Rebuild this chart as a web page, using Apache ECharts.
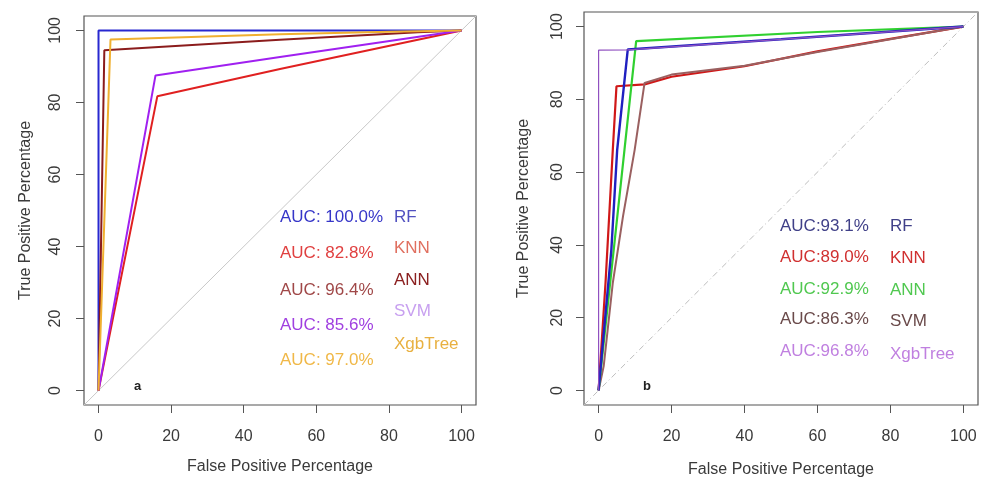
<!DOCTYPE html>
<html>
<head>
<meta charset="utf-8">
<script src="https://cdn.jsdelivr.net/npm/echarts@6/dist/echarts.min.js"></script>
<style>
  html, body { margin: 0; padding: 0; background: #fff; }
  #chart { width: 984px; height: 477px; }
</style>
</head>
<body>
<div id="chart"></div>
<script>
// tick labels shared by both panels
var ticks = [0, 20, 40, 60, 80, 100];
var diagonal = [[-4, -4], [104, 104]];

// panel a: ROC points (FPR %, TPR %)
var aRF = [[0, 0], [0, 100], [100, 100]];
var aKNN = [[0, 0], [16.2, 81.7], [50, 89.3], [100, 100]];
var aANN = [[0, 0], [1.6, 94.5], [50, 97.4], [88, 99.5], [100, 100]];
var aSVM = [[0, 0], [15.7, 87.5], [50, 92.6], [100, 100]];
var aXgb = [[0, 0], [3.3, 97.5], [50, 98.9], [80, 99.6], [100, 100]];

// panel b
var bRF = [[0, 0], [3.5, 38.7], [5.1, 66.2], [8, 93.7], [50, 96.5], [100, 100]];
var bKNN = [[0, 0], [1.9, 29.6], [3.9, 66.2], [4.9, 83.6], [12.6, 84.1], [20, 86.2], [40, 89.1], [60, 93.2], [80, 96.6], [100, 100]];
var bANN = [[0, 0], [7.1, 66.2], [10.3, 96], [60, 98.5], [100, 100]];
var bSVM = [[0, 0], [1.4, 6.7], [3.9, 29.6], [6.7, 47.9], [9.9, 66.2], [12.6, 84.5], [20, 86.8], [40, 89.2], [60, 93], [80, 96.5], [100, 100]];
var bXgb = [[0, 0], [0, 93.5], [8, 93.6], [50, 96.5], [100, 100]];

var models = ['RF', 'KNN', 'ANN', 'SVM', 'XgbTree'];
var aucA = ['AUC: 100.0%', 'AUC: 82.8%', 'AUC: 96.4%', 'AUC: 85.6%', 'AUC: 97.0%'];
var aucB = ['AUC:93.1%', 'AUC:89.0%', 'AUC:92.9%', 'AUC:86.3%', 'AUC:96.8%'];

var font = "'Liberation Sans', Arial, sans-serif";
var axisColor = '#555';
var textColor = '#3a3a3a';

function xAx(idx, gap) {
  return {
    gridIndex: idx, type: 'value', min: -4, max: 104, position: 'bottom',
    name: 'False Positive Percentage', nameLocation: 'middle', nameGap: gap,
    nameTextStyle: { fontSize: 16, color: textColor, fontFamily: font },
    axisLine: { show: false, onZero: false },
    axisTick: { show: true, inside: false, length: 8, customValues: ticks, lineStyle: { color: axisColor } },
    axisLabel: { customValues: ticks, margin: 24, fontSize: 16, color: textColor, fontFamily: font },
    splitLine: { show: false }
  };
}
function yAx(idx, gap, margin) {
  return {
    gridIndex: idx, type: 'value', min: -4, max: 104, position: 'left',
    name: 'True Positive Percentage', nameLocation: 'middle', nameGap: gap,
    nameTextStyle: { fontSize: 16, color: textColor, fontFamily: font },
    axisLine: { show: false, onZero: false },
    axisTick: { show: true, inside: false, length: 8, customValues: ticks, lineStyle: { color: axisColor } },
    axisLabel: { customValues: ticks, margin: margin, rotate: 90, fontSize: 16, color: textColor, fontFamily: font },
    splitLine: { show: false }
  };
}
function line(idx, name, data, color, width) {
  return {
    name: name, type: 'line', xAxisIndex: idx, yAxisIndex: idx, data: data,
    showSymbol: false, symbol: 'none', silent: true,
    lineStyle: { color: color, width: width }
  };
}
function texts(list, x, ys, colors) {
  return list.map(function (t, i) {
    return { type: 'text', left: x, top: ys[i] - 10,
      style: { text: t, fill: colors[i], fontSize: 17, fontFamily: font } };
  });
}

var chart = echarts.init(document.getElementById('chart'));
chart.setOption({
  animation: false,
  backgroundColor: '#fff',
  grid: [
    { left: 84, top: 16, width: 392, height: 389, show: true, borderColor: axisColor, borderWidth: 1.2,
      containLabel: false, outerBoundsMode: 'none' },
    { left: 584, top: 12, width: 394, height: 393, show: true, borderColor: axisColor, borderWidth: 1.2,
      containLabel: false, outerBoundsMode: 'none' }
  ],
  xAxis: [xAx(0, 54), xAx(1, 57)],
  yAxis: [yAx(0, 50, 20), yAx(1, 52, 18)],
  series: [
    line(0, 'diag', diagonal, '#c8c8c8', 1),
    line(0, 'RF', aRF, '#2828d0', 2),
    line(0, 'KNN', aKNN, '#e02020', 2),
    line(0, 'ANN', aANN, '#8b1c1c', 2),
    line(0, 'SVM', aSVM, '#a020f0', 2),
    line(0, 'XgbTree', aXgb, '#f0b030', 2),
    Object.assign(line(1, 'diag', diagonal, '#bdbdbd', 1), { lineStyle: { color: '#bdbdbd', width: 1, type: [6, 3, 1, 3] } }),
    line(1, 'KNN', bKNN, '#d01818', 2.2),
    line(1, 'SVM', bSVM, '#9a6060', 2),
    line(1, 'ANN', bANN, '#30d030', 2.2),
    line(1, 'RF', bRF, '#2020c0', 2.4),
    line(1, 'XgbTree', bXgb, '#9050c0', 1.2)
  ],
  graphic: [].concat(
    texts(aucA, 280, [219, 255, 292, 327, 362], ['#3636c8', '#e04040', '#a04848', '#a040e0', '#f0b848']),
    texts(models, 394, [219, 250, 282, 313, 346], ['#5050c0', '#e07060', '#8b2020', '#c8a0f0', '#e8b040']),
    texts(aucB, 780, [228, 259, 291, 321, 353], ['#404088', '#d03030', '#50c850', '#6a4a4a', '#c080e0']),
    texts(models, 890, [228, 260, 292, 323, 356], ['#404088', '#d03030', '#50c850', '#6a4a4a', '#c080e0']),
    [
      { type: 'text', left: 134, top: 380, style: { text: 'a', fill: '#222', fontSize: 13, fontWeight: 'bold', fontFamily: font } },
      { type: 'text', left: 643, top: 380, style: { text: 'b', fill: '#222', fontSize: 13, fontWeight: 'bold', fontFamily: font } }
    ]
  )
});
</script>
</body>
</html>
